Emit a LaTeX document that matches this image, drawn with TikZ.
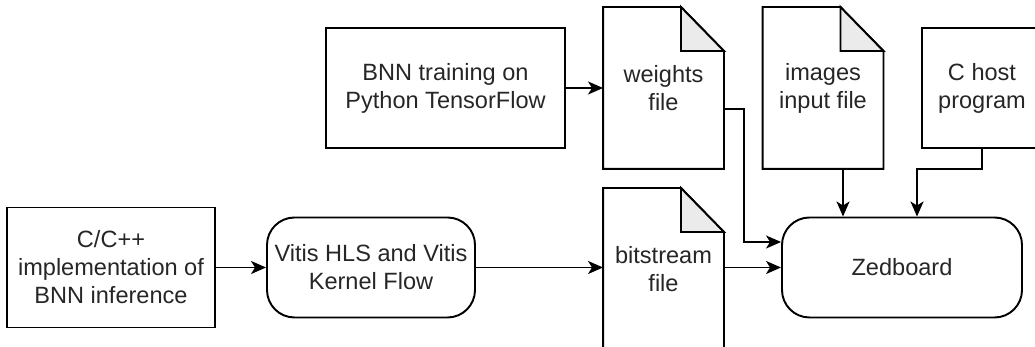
\documentclass[tikz,border=0pt]{standalone}
\usepackage{fontspec}
\setmainfont{Liberation Sans}
\usepackage{xcolor}
\usepackage{tikz}
\usetikzlibrary{positioning, arrows.meta}

\definecolor{foldgray}{HTML}{EBEBEB}

\begin{document}
\begin{tikzpicture}[
    line width=1.1pt,
    every node/.style={
        align=center, inner sep=0pt, text=black!85,
        font=\fontsize{13.4}{15.9}\selectfont
    },
    box/.style={draw, minimum width=#1, minimum height=2.4cm},
    flow/.style={draw, rounded corners=0.55cm, minimum width=#1, minimum height=2cm},
    docfile/.style={minimum width=2.38cm, minimum height=3.2cm},
    arr/.style={-{Stealth[length=0.3cm, width=0.26cm, inset=0.08cm]}}
]
\useasboundingbox (0,0) rectangle (20.7,6.94);

\node[box=4.78cm] (train)  at (8.91, 5.18)  {BNN training on\\Python TensorFlow};
\node[docfile]    (weights) at (13.27, 5.18) {weights\\file};
\node[docfile]    (images) at (16.46, 5.18) {images\\input file};
\node[box=2.4cm]  (host)   at (19.64, 5.18) {C host\\program};
\node[box=4.16cm] (impl)   at (2.22, 1.59)  {C/C++\\implementation of\\BNN inference};
\node[flow=4.16cm] (vitis) at (7.42, 1.59)  {Vitis HLS and Vitis\\Kernel Flow};
\node[docfile]    (bits)   at (13.27, 1.56) {bitstream\\file};
\node[flow=4.8cm] (zed)    at (18.04, 1.59) {Zedboard};

% file outlines with the folded corner
\foreach \n in {weights, images, bits} {
    \draw (\n.north west) -- ([xshift=-0.86cm]\n.north east)
        -- ([yshift=-0.88cm]\n.north east) -- (\n.south east)
        -- (\n.south west) -- cycle;
    \draw[fill=foldgray] ([xshift=-0.86cm]\n.north east) -- ++(0,-0.88cm)
        -- ++(0.86cm,0) -- cycle;
}

\draw[arr] (train) -- (weights);
\draw[arr] (impl) -- (vitis);
\draw[arr] (vitis) -- (bits.west |- vitis);
\draw[arr] (bits.east |- zed) -- (zed);
\draw[arr] ([yshift=-0.42cm]weights.east) -- ++(0.4,0) |- ([yshift=0.51cm]zed.west);
\draw[arr] ([xshift=0.4cm]images.south) -- ([xshift=0.4cm]images.south |- zed.north);
\draw[arr] (host.south) -- ++(0,-0.4) -| ([xshift=0.3cm]zed.north);
\end{tikzpicture}
\end{document}
